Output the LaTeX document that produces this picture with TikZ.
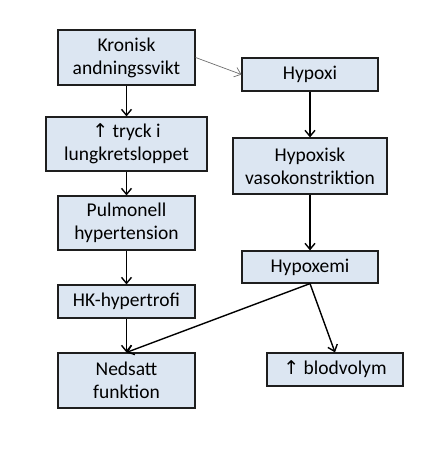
\documentclass[tikz,border=0pt]{standalone}
\usepackage{fontspec}
\setmainfont{Carlito}
\newfontfamily\arrowfont{DejaVu Sans}
\usepackage{tikz}
\usetikzlibrary{arrows.meta,positioning}
\definecolor{BoxFill}{RGB}{220,230,242}
\definecolor{BoxLine}{RGB}{30,30,30}
\definecolor{ThinGray}{RGB}{110,110,110}
\newcommand{\upar}{{\arrowfont\fontsize{19}{22}\selectfont ↑}}

\begin{document}
\begin{tikzpicture}[x=1pt,y=-1pt,>={Straight Barb[length=6pt,width=10pt]},
  box/.style={draw=BoxLine,line width=1.2pt,fill=BoxFill,align=center,inner sep=0pt,
    font=\fontsize{19.5}{23}\selectfont},
  link/.style={->,line width=1.4pt,black},
  thinlink/.style={->,line width=0.7pt,ThinGray}]
\useasboundingbox (0,0) rectangle (441,452);
% left column
\node[box,minimum width=137pt,minimum height=55pt] (kron) at (126.5,57.5) {Kronisk\\andningssvikt};
\node[box,minimum width=161pt,minimum height=54pt] (tryck) at (126.5,144) {\upar{} tryck i\\lungkretsloppet};
\node[box,minimum width=137pt,minimum height=54pt] (pulm) at (126.5,223) {Pulmonell\\hypertension};
\node[box,minimum width=137pt,minimum height=33pt] (hk) at (126.5,301.5) {HK-hypertrofi};
\node[box,minimum width=137pt,minimum height=55pt] (nedsatt) at (126.5,380.5) {Nedsatt\\funktion};
% right column
\node[box,minimum width=136pt,minimum height=33pt] (hypoxi) at (310,74.5) {Hypoxi};
\node[box,minimum width=154pt,minimum height=56pt] (vaso) at (310,166) {Hypoxisk\\vasokonstriktion};
\node[box,minimum width=136pt,minimum height=32pt] (hypoxemi) at (310,267) {Hypoxemi};
\node[box,minimum width=136pt,minimum height=33pt] (blod) at (335,369.5) {\upar{} blodvolym};
% arrows
\draw[thinlink] (kron.east)--(hypoxi.west);
\draw[link] (kron)--(tryck);
\draw[link] (tryck)--(pulm);
\draw[link] (pulm)--(hk);
\draw[link] (hk)--(nedsatt);
\draw[link] (hypoxi)--(vaso);
\draw[link] (vaso)--(hypoxemi);
\draw[link] (hypoxemi.south)--(nedsatt.north);
\draw[link] (hypoxemi.south)--(blod.north);
\end{tikzpicture}
\end{document}
